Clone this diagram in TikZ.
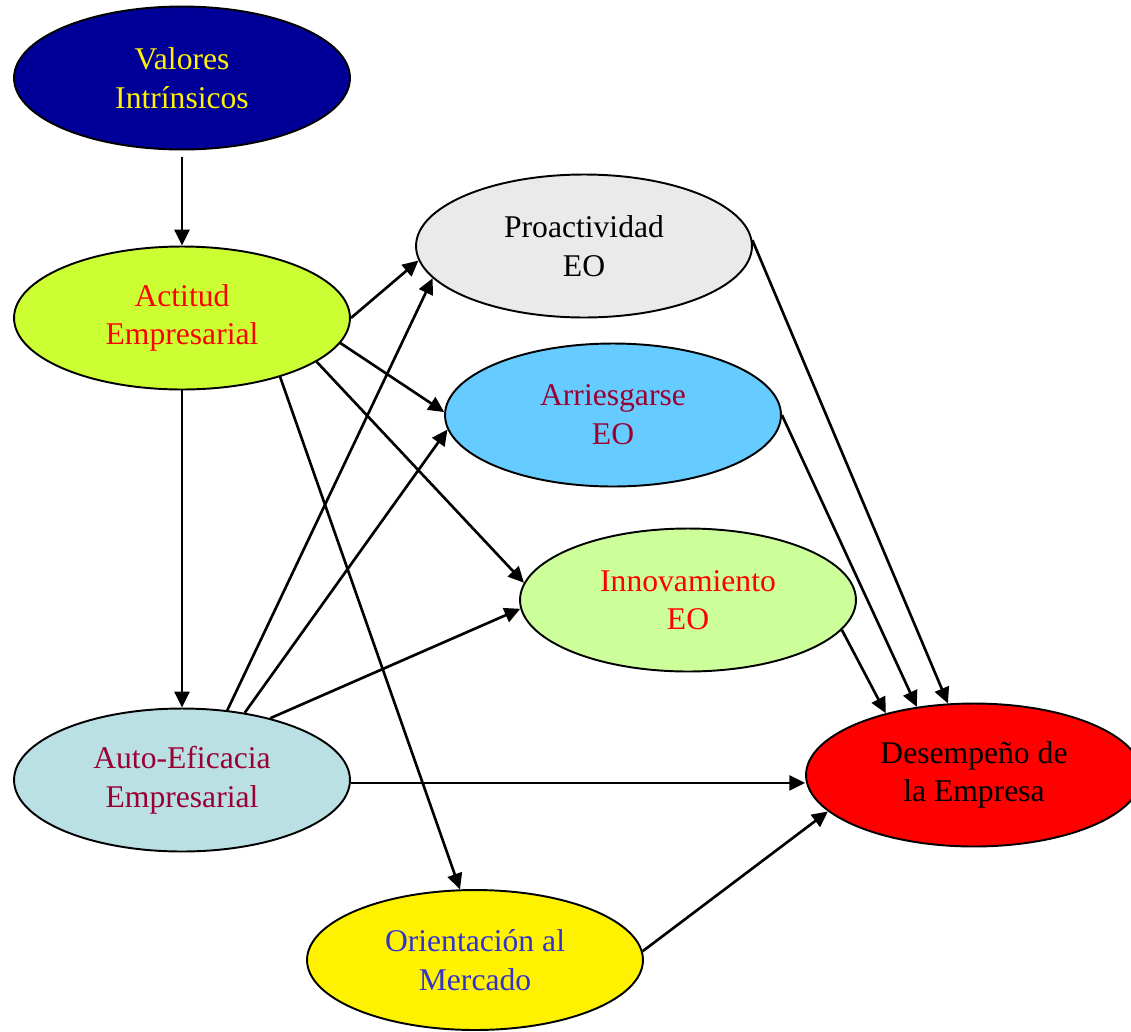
\documentclass[tikz,border=0pt]{standalone}
\usepackage{fontspec}
\setmainfont{Liberation Serif}
\usetikzlibrary{shapes.geometric, arrows.meta}

\definecolor{navy}{HTML}{000099}
\definecolor{lima}{HTML}{CCFF33}
\definecolor{gris}{HTML}{EAEAEA}
\definecolor{celeste}{HTML}{66CCFF}
\definecolor{verdec}{HTML}{CCFF99}
\definecolor{turq}{HTML}{BBE0E3}
\definecolor{carmin}{HTML}{990033}
\definecolor{azul}{HTML}{3333CC}

\tikzset{
  elip/.style = {ellipse, draw, line width=1.1pt, inner sep=0pt,
    minimum width=6.72cm, minimum height=2.86cm, align=center,
    font=\fontsize{18}{22}\selectfont},
  flecha/.style = {line width=1.5pt, -{Triangle[length=9pt, width=8.5pt]}}
}

\begin{document}
\begin{tikzpicture}[x=0.02cm, y=-0.02cm]
\useasboundingbox (0,0) rectangle (1131,1031);

\node[elip, fill=navy, text=yellow] (val) at (182,78) {Valores\\Intrínsicos};
\node[elip, fill=lima, text=red] (act) at (182,318) {Actitud\\Empresarial};
\node[elip, fill=turq, text=carmin] (auto) at (182,780) {Auto-Eficacia\\Empresarial};
\node[elip, fill=gris] (pro) at (584,246) {Proactividad\\EO};
\node[elip, fill=celeste, text=carmin] (arr) at (613,415) {Arriesgarse\\EO};
\node[elip, fill=verdec, text=red] (inn) at (688,600) {Innovamiento\\EO};
\node[elip, fill=yellow, text=azul, minimum height=2.8cm] (ori) at (475,960) {Orientación al\\Mercado};
\node[elip, fill=red] (des) at (974,775) {Desempeño de\\la Empresa};

% desde actitud
\draw[flecha, shorten <=4pt] (val.south) -- (act.north);
\draw[flecha] (act.east) -- (pro.185);
\draw[flecha] (act.-9) -- (arr.179);
\draw[flecha] (act.-18) -- (inn.174);
\draw[flecha] (act.-31) -- (ori.102);
\draw[flecha] (act.south) -- (auto.north);

% desde auto-eficacia
\draw[flecha] (auto.57) -- (pro.192);
\draw[flecha] (auto.47) -- (arr.185);
\draw[flecha] (auto.35) -- (inn.183);
\draw[flecha] (auto.-1) -- (auto.-1 -| des.west);

% hacia desempeno
\draw[flecha] (pro.2) -- (des.110);
\draw[flecha] (arr.east) -- (des.130);
\draw[flecha] (inn.-11) -- (des.145);
\draw[flecha] (ori.3) -- (des.194);
\end{tikzpicture}
\end{document}
